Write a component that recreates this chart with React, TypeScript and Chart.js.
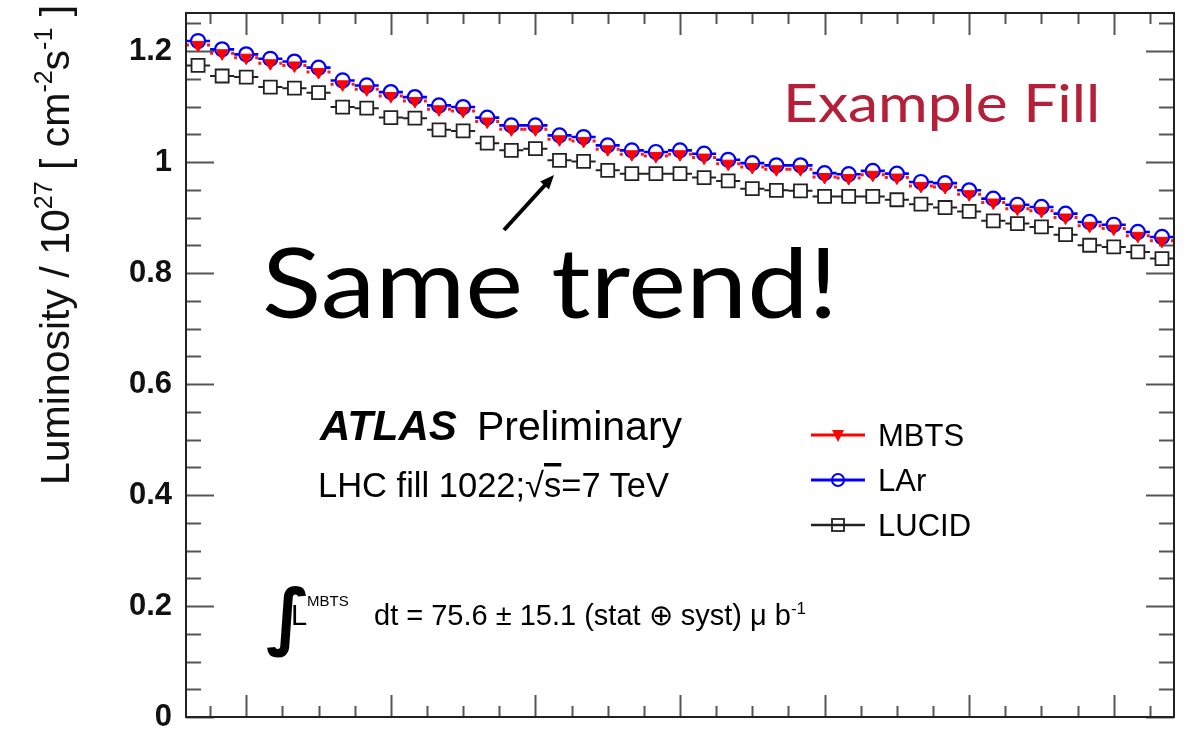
import React, { useEffect, useRef } from "react";
import { Chart, registerables } from "chart.js";

Chart.register(...registerables);

// ---- data (time in minutes relative to first full hour, 10-minute bins) ----
const TIME_MIN = [
  -20, -10, 0, 10, 20, 30, 40, 50, 60, 70, 80, 90, 100, 110, 120, 130, 140, 150, 160, 170,
  180, 190, 200, 210, 220, 230, 240, 250, 260, 270, 280, 290, 300, 310, 320, 330, 340, 350,
  360, 370, 380,
];

const MBTS = [
  1.211, 1.196, 1.188, 1.178, 1.174, 1.162, 1.14, 1.131, 1.119, 1.11,
  1.095, 1.092, 1.073, 1.059, 1.059, 1.041, 1.038, 1.023, 1.014, 1.011,
  1.014, 1.008, 0.997, 0.991, 0.987, 0.987, 0.973, 0.971, 0.977, 0.972,
  0.957, 0.955, 0.942, 0.927, 0.916, 0.912, 0.9, 0.885, 0.88, 0.867,
  0.858,
];

const LAR = [
  1.218, 1.203, 1.194, 1.186, 1.181, 1.17, 1.147, 1.138, 1.126, 1.117,
  1.102, 1.099, 1.08, 1.066, 1.066, 1.048, 1.045, 1.03, 1.021, 1.018,
  1.021, 1.015, 1.004, 0.998, 0.994, 0.994, 0.98, 0.978, 0.984, 0.979,
  0.964, 0.962, 0.949, 0.934, 0.923, 0.919, 0.907, 0.892, 0.887, 0.874,
  0.865,
];

const LUCID = [
  1.174, 1.155, 1.153, 1.135, 1.133, 1.125, 1.099, 1.097, 1.08, 1.079,
  1.058, 1.056, 1.034, 1.021, 1.024, 1.003, 1.001, 0.985, 0.979, 0.979,
  0.979, 0.972, 0.966, 0.952, 0.949, 0.948, 0.938, 0.938, 0.938, 0.932,
  0.924, 0.918, 0.911, 0.894, 0.889, 0.883, 0.869, 0.85, 0.847, 0.838,
  0.826,
];

const BIN_HALF_WIDTH = 5;
const X_MIN = -25;
const X_MAX = 385;
const Y_MIN = 0;
const Y_MAX = 1.2685;
const Y_MAJOR_STEP = 0.2;
const Y_MINOR_STEP = 0.05;
const X_MAJOR_STEP = 60;
const X_MINOR_STEP = 15;

const ROOT_FONT = "'Liberation Sans', Arial, Helvetica, sans-serif";
const SLIDE_FONT = "Lato, 'Open Sans', sans-serif";

function points(values: number[]) {
  return TIME_MIN.map((t, i) => ({ x: t, y: values[i] }));
}

function errorBars(values: number[]) {
  const out: { x: number; y: number | null }[] = [];
  TIME_MIN.forEach((t, i) => {
    out.push({ x: t - BIN_HALF_WIDTH, y: values[i] });
    out.push({ x: t + BIN_HALF_WIDTH, y: values[i] });
    out.push({ x: t + BIN_HALF_WIDTH, y: null });
  });
  return out;
}

const rootTicksPlugin = {
  id: "rootTicks",
  beforeDatasetsDraw(chart: any) {
    const { ctx, chartArea, scales } = chart;
    const { left, right, top, bottom } = chartArea;
    const xs = scales.x;
    const ys = scales.y;
    ctx.save();
    ctx.strokeStyle = "#555";
    ctx.lineWidth = 2;
    ctx.beginPath();
    const nY = Math.floor(Y_MAX / Y_MINOR_STEP + 1e-6);
    const perMajorY = Math.round(Y_MAJOR_STEP / Y_MINOR_STEP);
    for (let k = 0; k <= nY; k++) {
      const v = k * Y_MINOR_STEP;
      const len = k % perMajorY === 0 ? 28 : 15;
      const py = Math.round(ys.getPixelForValue(v)) + 0.5;
      ctx.moveTo(left, py);
      ctx.lineTo(left + len, py);
      ctx.moveTo(right, py);
      ctx.lineTo(right - len, py);
    }
    const perMajorX = Math.round(X_MAJOR_STEP / X_MINOR_STEP);
    const kStart = Math.ceil(X_MIN / X_MINOR_STEP);
    const kEnd = Math.floor(X_MAX / X_MINOR_STEP);
    for (let k = kStart; k <= kEnd; k++) {
      const v = k * X_MINOR_STEP;
      const len = ((k % perMajorX) + perMajorX) % perMajorX === 0 ? 22 : 11;
      const px = Math.round(xs.getPixelForValue(v)) + 0.5;
      ctx.moveTo(px, bottom);
      ctx.lineTo(px, bottom - len);
      ctx.moveTo(px, top);
      ctx.lineTo(px, top + len);
    }
    ctx.stroke();
    ctx.restore();
  },
  afterDatasetsDraw(chart: any) {
    const { ctx, chartArea } = chart;
    const { left, right, top, bottom } = chartArea;
    ctx.save();
    ctx.strokeStyle = "#222";
    ctx.lineWidth = 2;
    ctx.strokeRect(left, top, right - left, bottom - top);
    ctx.restore();
  },
};

export default function App() {
  const canvasRef = useRef<HTMLCanvasElement | null>(null);

  useEffect(() => {
    if (!canvasRef.current) return;
    const chart = new Chart(canvasRef.current, {
      type: "line",
      data: {
        datasets: [
          {
            label: "MBTS",
            data: points(MBTS),
            showLine: false,
            pointStyle: "triangle",
            pointRotation: 180,
            pointRadius: 7,
            pointBackgroundColor: "#ff0000",
            pointBorderColor: "#ff0000",
            pointBorderWidth: 1,
            order: 1,
          },
          {
            label: "MBTS bars",
            data: errorBars(MBTS),
            borderColor: "#ff1a1a",
            borderWidth: 3,
            borderDash: [3, 4],
            pointRadius: 0,
            spanGaps: false,
            order: 4,
          },
          {
            label: "LAr",
            data: points(LAR),
            showLine: false,
            pointStyle: "circle",
            pointRadius: 7,
            pointBackgroundColor: "#ffffff",
            pointBorderColor: "#0000ff",
            pointBorderWidth: 2.2,
            order: 2,
          },
          {
            label: "LAr bars",
            data: errorBars(LAR),
            borderColor: "#0000ff",
            borderWidth: 2.6,
            pointRadius: 0,
            spanGaps: false,
            order: 3,
          },
          {
            label: "LUCID",
            data: points(LUCID),
            showLine: false,
            pointStyle: "rect",
            pointRadius: 9.2,
            pointBackgroundColor: "#ffffff",
            pointBorderColor: "#222222",
            pointBorderWidth: 1.8,
            order: 5,
          },
          {
            label: "LUCID bars",
            data: errorBars(LUCID),
            borderColor: "#222222",
            borderWidth: 2,
            pointRadius: 0,
            spanGaps: false,
            order: 6,
          },
        ],
      },
      options: {
        responsive: false,
        animation: false,
        devicePixelRatio: 1,
        layout: { padding: { top: 13, right: 16, left: 0, bottom: 0 } },
        plugins: {
          legend: { display: false },
          tooltip: { enabled: false },
          title: { display: false },
        },
        scales: {
          x: {
            type: "linear",
            min: X_MIN,
            max: X_MAX,
            grid: { display: false, drawTicks: false },
            border: { display: false },
            ticks: { display: false },
            afterFit: (s: any) => {
              s.height = 12;
              s.paddingLeft = 0;
              s.paddingRight = 0;
            },
          },
          y: {
            type: "linear",
            min: Y_MIN,
            max: Y_MAX,
            grid: { display: false, drawTicks: false },
            border: { display: false },
            ticks: {
              stepSize: Y_MAJOR_STEP,
              includeBounds: false,
              padding: 14,
              color: "#111",
              font: { family: ROOT_FONT, size: 31, weight: "bold" },
              callback: (v: any) => String(Math.round(Number(v) * 10) / 10),
            },
            afterFit: (s: any) => {
              s.width = 186;
              s.paddingTop = 0;
              s.paddingBottom = 0;
            },
          },
        },
      },
      plugins: [rootTicksPlugin],
    } as any);
    return () => chart.destroy();
  }, []);

  const sup = 25;
  return (
    <div
      style={{
        position: "fixed",
        left: 0,
        top: 0,
        width: 1190,
        height: 729,
        background: "#fff",
        overflow: "hidden",
      }}
    >
      <canvas ref={canvasRef} width={1190} height={729} style={{ display: "block" }} />
      <svg
        width={1190}
        height={729}
        style={{ position: "absolute", left: 0, top: 0, pointerEvents: "none", whiteSpace: "pre" }}
        fontFamily={ROOT_FONT}
      >
        {/* y-axis title */}
        <text transform="translate(69,485) rotate(-90)" fontSize={41} fill="#111">
          Luminosity / 10
          <tspan dy={-17} fontSize={sup}>27</tspan>
          <tspan dy={17}>{" [ cm"}</tspan>
          <tspan dy={-17} fontSize={sup}>-2</tspan>
          <tspan dy={17}>s</tspan>
          <tspan dy={-17} fontSize={sup}>-1</tspan>
          <tspan dy={17}>{" ]"}</tspan>
        </text>

        {/* slide annotations */}
        <text transform="translate(783,122) scale(1.14,1)" fontFamily={SLIDE_FONT} fontSize={53} fill="#b4203a">
          Example Fill
        </text>
        <text transform="translate(262,318) scale(1.13,1)" fontFamily={SLIDE_FONT} fontSize={97} fill="#000">
          Same trend!
        </text>
        <line x1={504} y1={230} x2={546} y2={184} stroke="#000" strokeWidth={4} />
        <polygon points="554,175 549,189.4 540.2,181.4" fill="#000" />

        {/* ATLAS label */}
        <text x={320} y={440} fontSize={42} fontWeight="bold" fontStyle="italic" fill="#000">
          ATLAS
        </text>
        <text x={477} y={440} fontSize={41} fill="#000">
          Preliminary
        </text>
        <text x={318} y={497} fontSize={34.5} fill="#000">
          {"LHC fill 1022;√"}
          <tspan style={{ textDecoration: "overline" }}>s</tspan>
          {"=7 TeV"}
        </text>

        {/* integrated luminosity */}
        <text x={266} y={641} fontFamily="'DejaVu Sans', sans-serif" fontSize={73} fontWeight="bold" fill="#000">
          ∫
        </text>
        <text x={291} y={625} fontSize={29} fill="#000">
          L
        </text>
        <text x={307} y={606} fontSize={15} fill="#000">
          MBTS
        </text>
        <text x={374} y={625} fontSize={29} fill="#000">
          {"dt = 75.6 ± 15.1 (stat ⊕ syst) μ b"}
          <tspan dy={-11} fontSize={17}>-1</tspan>
        </text>

        {/* legend */}
        <line x1={811} y1={435} x2={865} y2={435} stroke="#ff0000" strokeWidth={3} />
        <polygon points="832,430 844,430 838,442" fill="#ff0000" />
        <text x={878} y={446} fontSize={31} fill="#000">
          MBTS
        </text>

        <line x1={811} y1={480} x2={865} y2={480} stroke="#0000ff" strokeWidth={3} />
        <circle cx={838} cy={480} r={6} fill="none" stroke="#0000ff" strokeWidth={2} />
        <text x={878} y={491} fontSize={31} fill="#000">
          LAr
        </text>

        <line x1={811} y1={525} x2={865} y2={525} stroke="#222" strokeWidth={2.5} />
        <rect x={832} y={519} width={12} height={12} fill="none" stroke="#222" strokeWidth={1.8} />
        <text x={878} y={536} fontSize={31} fill="#000">
          LUCID
        </text>
      </svg>
    </div>
  );
}
